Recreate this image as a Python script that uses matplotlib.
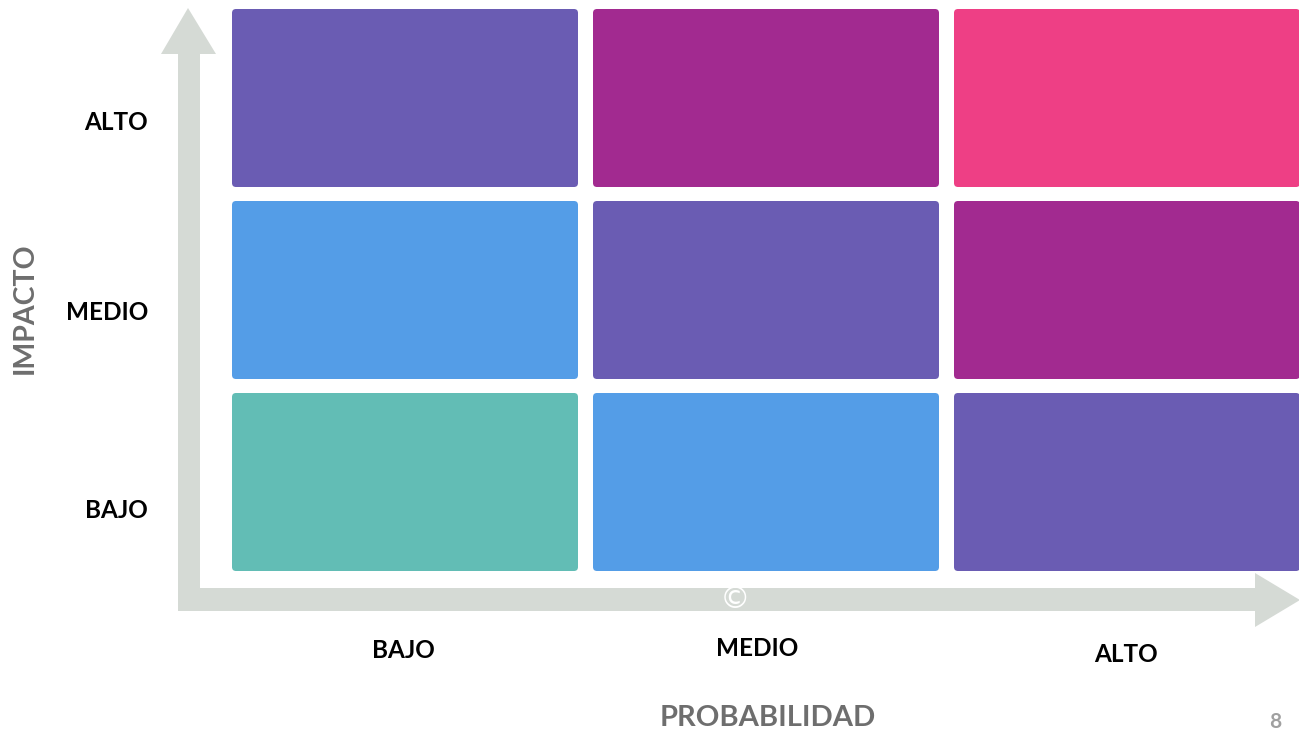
import matplotlib
matplotlib.use("Agg")
import matplotlib.pyplot as plt
import matplotlib.transforms as mtransforms
from matplotlib.patches import FancyBboxPatch, Polygon

# ---- data ----
prob_labels = ["BAJO", "MEDIO", "ALTO"]      # x categories (probabilidad)
impact_labels = ["BAJO", "MEDIO", "ALTO"]    # y categories (impacto)
# risk level for each (impact row, probability column)
risk_level = [
    [0, 1, 2],   # impacto BAJO
    [1, 2, 3],   # impacto MEDIO
    [2, 3, 4],   # impacto ALTO
]
level_colors = ["#62BDB5", "#549DE7", "#6A5CB3", "#A22A90", "#EE3F85"]
x_title = "PROBABILIDAD"
y_title = "IMPACTO"
page_number = "8"

W, H = 1299, 733
fig = plt.figure(figsize=(W / 100, H / 100), dpi=100)
# pixel transform for decorations
px = mtransforms.Affine2D().scale(1 / W, -1 / H).translate(0, 1) + fig.transFigure

# axes in cell units: column pitch 361 px starting at 232 px; row pitch 192 px, row 0 bottom at 571 px
col_pitch, row_pitch = 361.0, 192.0
x0_px, y0_px = 232.0, 571.0
ax = fig.add_axes([0, 0, 1, 1])
ax.set_xlim((0 - x0_px) / col_pitch, (W - x0_px) / col_pitch)
ax.set_ylim((y0_px - H) / row_pitch, (y0_px - 0) / row_pitch)
ax.axis("off")

arrow_color = "#D5DAD5"
# vertical arrow (impacto)
ax.add_patch(Polygon([(178, 611), (200, 611), (200, 54), (216, 54), (188, 8), (161, 54), (178, 54)],
                     closed=True, transform=px, facecolor=arrow_color, edgecolor="none", zorder=1))
# horizontal arrow (probabilidad)
ax.add_patch(Polygon([(178, 588), (1255, 588), (1255, 573), (1300, 600), (1255, 627), (1255, 611), (178, 611)],
                     closed=True, transform=px, facecolor=arrow_color, edgecolor="none", zorder=1))

# cells
cw, ch = 346 / col_pitch, 178 / row_pitch
r = 4 / col_pitch
for i, row in enumerate(risk_level):
    for j, lvl in enumerate(row):
        ax.add_patch(FancyBboxPatch((j, i), cw, ch,
                                    boxstyle=f"round,pad=0,rounding_size={r}",
                                    mutation_aspect=col_pitch / row_pitch,
                                    facecolor=level_colors[lvl], edgecolor="none", zorder=2))

font = "Lato"
lab_size = 17.5
# row labels (impacto), slightly below cell centres as in the reference
row_label_dy_px = [29, 22, 24]
for i, lab in enumerate(impact_labels):
    ax.text(-84 / col_pitch, i + ch / 2 - row_label_dy_px[i] / row_pitch, lab, ha="right", va="center",
            fontsize=lab_size, fontweight="bold", family=font, color="black")
# column labels (probabilidad)
col_label_y_px = [651, 649, 654]
col_label_dx_px = [-2, -9, -1]
for j, lab in enumerate(prob_labels):
    ax.text(j + cw / 2 + col_label_dx_px[j] / col_pitch, (y0_px - col_label_y_px[j]) / row_pitch, lab,
            ha="center", va="center", fontsize=lab_size, fontweight="bold", family=font, color="black")

ax.text(25, 308, y_title, transform=px, rotation=90, ha="center", va="center",
        fontsize=20.5, fontweight="bold", family=font, color="#6E6E6E")
ax.text(768, 718, x_title, transform=px, ha="center", va="center",
        fontsize=21, fontweight="bold", family=font, color="#6E6E6E")
ax.text(735, 599, "©", transform=px, ha="center", va="center",
        fontsize=22, family="DejaVu Sans", color="white", zorder=3)
ax.text(1275, 732, page_number, transform=px, ha="center", va="bottom",
        fontsize=15, fontweight="bold", family=font, color="#A0A0A0")

fig.savefig("out.png", dpi=100)
